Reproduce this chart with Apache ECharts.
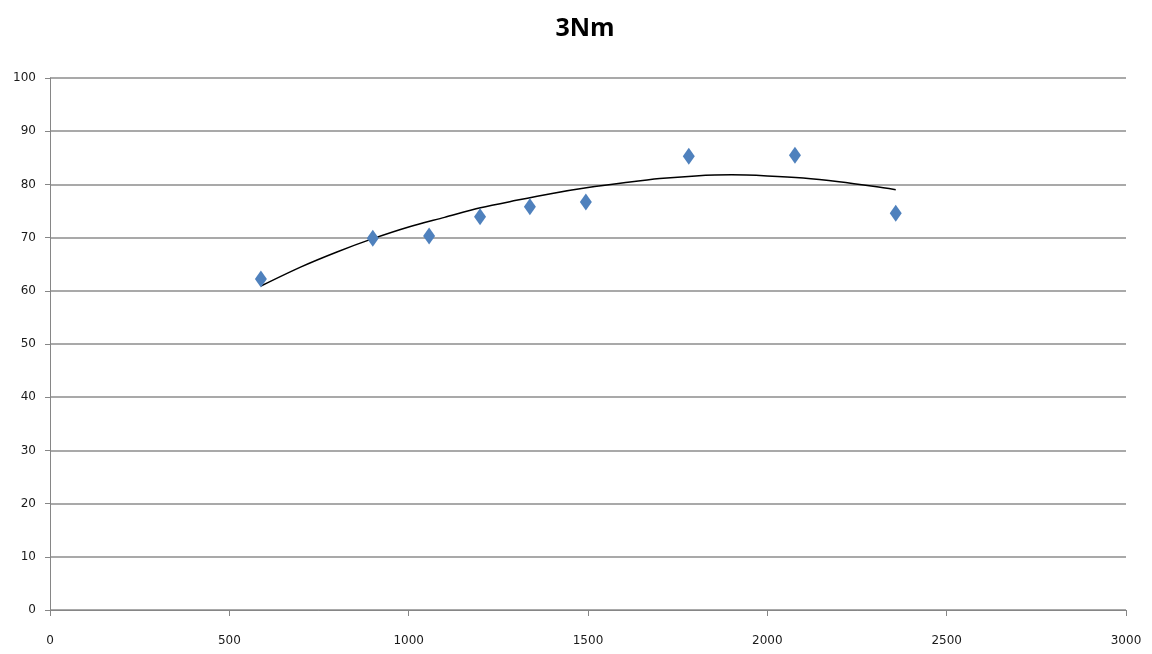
<!DOCTYPE html>
<html>
<head>
<meta charset="utf-8">
<script src="https://cdn.jsdelivr.net/npm/echarts@6/dist/echarts.min.js"></script>
<style>
  html, body { margin: 0; padding: 0; background: #fff; }
  #chart { width: 1152px; height: 654px; }
</style>
</head>
<body>
<div id="chart"></div>
<script>
// Measured points (speed vs. efficiency)
const speedValues = [588, 900, 1057, 1199, 1338, 1494, 1781, 2077, 2358];
const effValues = [62.2, 69.9, 70.3, 73.9, 75.8, 76.7, 85.3, 85.5, 74.6];

// Polynomial trend line (2nd order) sampled along the data range
const trendSpeed = [588, 700, 800, 900, 1000, 1100, 1200, 1300, 1400, 1500, 1600, 1700, 1800, 1900, 2000, 2100, 2200, 2300, 2358];
const trendEff = [60.9, 64.5, 67.3, 69.8, 72.0, 73.8, 75.6, 77.0, 78.3, 79.4, 80.3, 81.1, 81.6, 81.8, 81.6, 81.2, 80.5, 79.6, 79.0];

const chart = echarts.init(document.getElementById('chart'));

const labelFont = { color: '#1a1a1a', fontFamily: 'DejaVu Sans', fontSize: 12 };
const axisLine = { show: true, lineStyle: { color: '#868686', width: 1 } };

chart.setOption({
  animation: false,
  title: {
    text: '3Nm',
    left: 580,
    top: 11,
    textAlign: 'center',
    textStyle: { fontFamily: 'Open Sans', fontWeight: 'bold', fontSize: 25, color: '#000' }
  },
  grid: { left: 50, right: 26, top: 78, bottom: 44 },
  xAxis: {
    type: 'value',
    min: 0, max: 3000, interval: 500,
    axisLine: axisLine,
    axisTick: { show: true, inside: false, length: 6, lineStyle: { color: '#868686' } },
    axisLabel: Object.assign({ margin: 25, formatter: v => String(v) }, labelFont),
    splitLine: { show: false }
  },
  yAxis: {
    type: 'value',
    min: 0, max: 100, interval: 10,
    axisLine: axisLine,
    axisTick: { show: true, inside: false, length: 5, lineStyle: { color: '#868686' } },
    axisLabel: Object.assign({ margin: 14 }, labelFont),
    splitLine: { show: true, lineStyle: { color: '#8c8c8c', width: 1.5 } }
  },
  series: [
    {
      name: 'trend',
      type: 'line',
      data: trendSpeed.map((x, i) => [x, trendEff[i]]),
      smooth: 0.3,
      showSymbol: false,
      lineStyle: { color: '#000', width: 1.5 },
      z: 2
    },
    {
      name: 'efficiency',
      type: 'scatter',
      data: speedValues.map((x, i) => [x, effValues[i]]),
      symbol: 'diamond',
      symbolSize: [12, 17],
      itemStyle: { color: '#4f81bd', opacity: 1 },
      z: 3
    }
  ]
});
</script>
</body>
</html>
